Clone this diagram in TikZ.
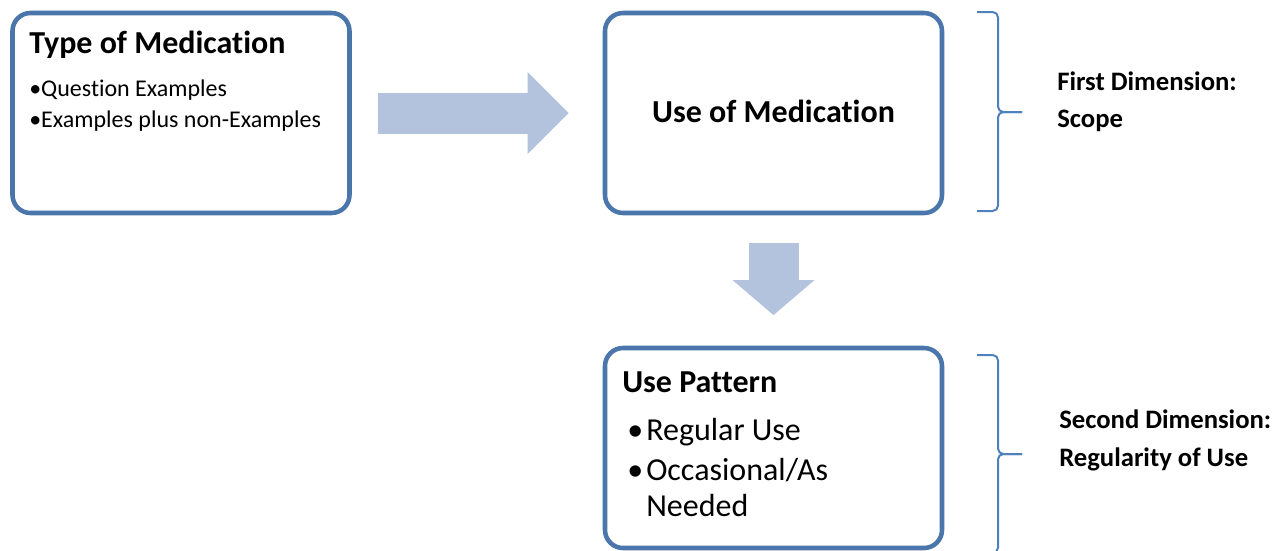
\documentclass[tikz,border=0pt]{standalone}
\usepackage{fontspec}
\setmainfont{Carlito}[Ligatures=NoCommon]
\usetikzlibrary{positioning,arrows.meta}
\definecolor{boxline}{RGB}{74,118,172}
\definecolor{arrowfill}{RGB}{179,195,222}
\definecolor{braceline}{RGB}{79,129,189}

\begin{document}
\begin{tikzpicture}[x=0.75pt, y=-0.75pt, on grid, node distance=251.25pt and 444.375pt,
box/.style ={rectangle, rounded corners=13.5pt, draw=boxline, line width=3.4pt,
minimum width=252.75pt, minimum height=150pt},
head/.style ={font=\fontsize{24pt}{28pt}\selectfont\bfseries, inner sep=0pt, anchor=base west},
item/.style ={font=\fontsize{18pt}{22pt}\selectfont, inner sep=0pt, anchor=base west},
bigitem/.style ={font=\fontsize{24pt}{28pt}\selectfont, inner sep=0pt, anchor=base west},
dim/.style ={font=\fontsize{20pt}{24pt}\selectfont\bfseries, inner sep=0pt, anchor=base west},
fat/.style ={draw=arrowfill, fill=arrowfill},
brace/.style ={draw=braceline, line width=1.5pt, rounded corners=4pt}]
\useasboundingbox (0,0) rectangle (1281,550);

\node[box] (type) at (181,113) {};
\node[box] (use) [right=of type] {};
\node[box] (pattern) [below=of use] {};

\node[head] (typehead) at (29,53) {Type of Medication};
\node[item] (q1) at (29,96) {•Question Examples};
\node[item] (q2) at (29,127) {•Examples plus non-Examples};
\node[head, anchor=base] (usehead) at (773.5,122) {Use of Medication};
\node[head] (patternhead) at (622,392) {Use Pattern};
\node[bigitem] (dot1) at (627,440) {•};
\node[bigitem] (p1) at (646,440) {Regular Use};
\node[bigitem] (dot2) at (627,480) {•};
\node[bigitem] (p2) at (646,480) {Occasional/As};
\node[bigitem] (p3) at (646,516) {Needed};

\node[dim] (dim1) at (1057,90) {First Dimension:};
\node[dim] (dim1b) at (1057,127) {Scope};
\node[dim] (dim2) at (1059,428) {Second Dimension:};
\node[dim] (dim2b) at (1059,466) {Regularity of Use};

\draw[fat, line width=30.75pt, -{Triangle[width=61.5pt, length=30.75pt, line width=0pt]},
shorten <=19.5pt, shorten >=25.5pt] (type.east) -- (type.east -| use.west);
\draw[fat, line width=37.5pt, -{Triangle[width=61.5pt, length=26.25pt, line width=0pt]},
shorten <=21pt, shorten >=23pt] (use.south) -- (pattern.north);

% braces
\draw[brace] (977,12) -- (998,12) -- (998,112) -- (1022,112);
\draw[brace] (1022,112) -- (998,112) -- (998,211) -- (977,211);
\draw[brace] (977,355) -- (998,355) -- (998,454) -- (1022,454);
\draw[brace] (1022,454) -- (998,454) -- (998,553) -- (977,553);
\end{tikzpicture}
\end{document}
